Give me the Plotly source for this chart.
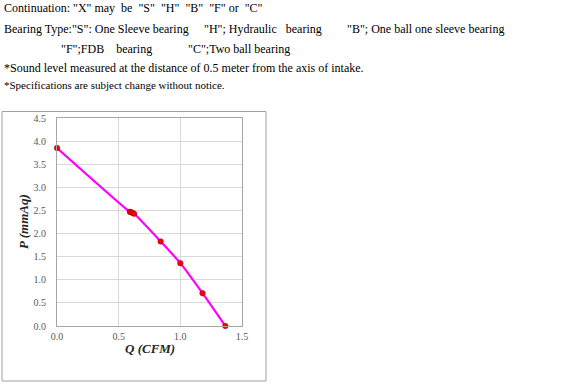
import plotly.graph_objects as go

# Data
q_cfm = [0.0, 0.59, 0.60, 0.61, 0.625, 0.84, 1.0, 1.18, 1.365]
p_mmaq = [3.85, 2.47, 2.46, 2.45, 2.43, 1.83, 1.36, 0.71, 0.0]
x_ticks = [0.0, 0.5, 1.0, 1.5]
y_ticks = [0.0, 0.5, 1.0, 1.5, 2.0, 2.5, 3.0, 3.5, 4.0, 4.5]
x_title = "Q (CFM)"
y_title = "P (mmAq)"

header_lines = [
    'Continuation: "X" may&nbsp; be&nbsp; "S"&nbsp; "H"&nbsp; "B"&nbsp; "F" or&nbsp; "C"',
    'Bearing Type:"S": One Sleeve bearing',
    '"H"; Hydraulic&nbsp;&nbsp; bearing',
    '"B"; One ball one sleeve bearing',
    '"F";FDB&nbsp;&nbsp;&nbsp; bearing',
    '"C";Two ball bearing',
    '*Sound level measured at the distance of 0.5 meter from the axis of intake.',
    '*Specifications are subject change without notice.',
]

W, H = 577, 387
L, R, T, B = 57, 242, 118, 326

def px(x):
    return (x - L) / (R - L)

def py(y):
    return (B - y) / (B - T)

fig = go.Figure()
fig.add_trace(go.Scatter(
    x=q_cfm, y=p_mmaq, mode="lines+markers",
    line=dict(color="#FF00FF", width=2.2, shape="spline", smoothing=0.6),
    marker=dict(color="#FF0000", size=5.5, line=dict(color="#8B0000", width=0.5)),
    showlegend=False, cliponaxis=False,
))

serif = "Liberation Serif"
axis_common = dict(
    showgrid=True, gridcolor="#D9D9D9", gridwidth=1,
    showline=True, linecolor="#A6A6A6", linewidth=1, mirror=True,
    zeroline=False, ticks="", tickfont=dict(family=serif, size=10, color="#595959"),
    tickformat=".1f",
)
fig.update_layout(
    width=W, height=H,
    margin=dict(l=L, r=W - R, t=T, b=H - B),
    paper_bgcolor="white", plot_bgcolor="white",
    xaxis=dict(range=[0, 1.5], tickvals=x_ticks, ticklabelstandoff=1, **axis_common),
    yaxis=dict(range=[0, 4.5], tickvals=y_ticks, ticklabelstandoff=8, **axis_common),
)

# axis titles
fig.add_annotation(text=f"<b><i>{x_title}</i></b>", xref="paper", yref="paper",
                   x=0.5, y=py(348), xanchor="center", yanchor="middle", showarrow=False,
                   font=dict(family=serif, size=13, color="#262626"))
fig.add_annotation(text=f"<b><i>{y_title}</i></b>", xref="paper", yref="paper",
                   x=px(23), y=0.5, xanchor="center", yanchor="middle", showarrow=False,
                   textangle=-90, font=dict(family=serif, size=13, color="#262626"))

# outer chart border
fig.add_shape(type="rect", xref="paper", yref="paper",
              x0=px(2), x1=px(266), y0=py(381), y1=py(111.5),
              line=dict(color="#A0A0A0", width=1), fillcolor="rgba(0,0,0,0)", layer="below")

# header text
pos = [(2, 8), (2, 29), (202, 29), (345, 29), (59, 49), (186, 49), (2, 68), (2, 85)]
sizes = [12, 12, 12, 12, 12, 12, 12, 11]
for txt, (x, y), s in zip(header_lines, pos, sizes):
    fig.add_annotation(text=txt, xref="paper", yref="paper", x=px(x), y=py(y),
                       xanchor="left", yanchor="middle", showarrow=False,
                       font=dict(family=serif, size=s, color="black"))

fig.write_html("out.html")
